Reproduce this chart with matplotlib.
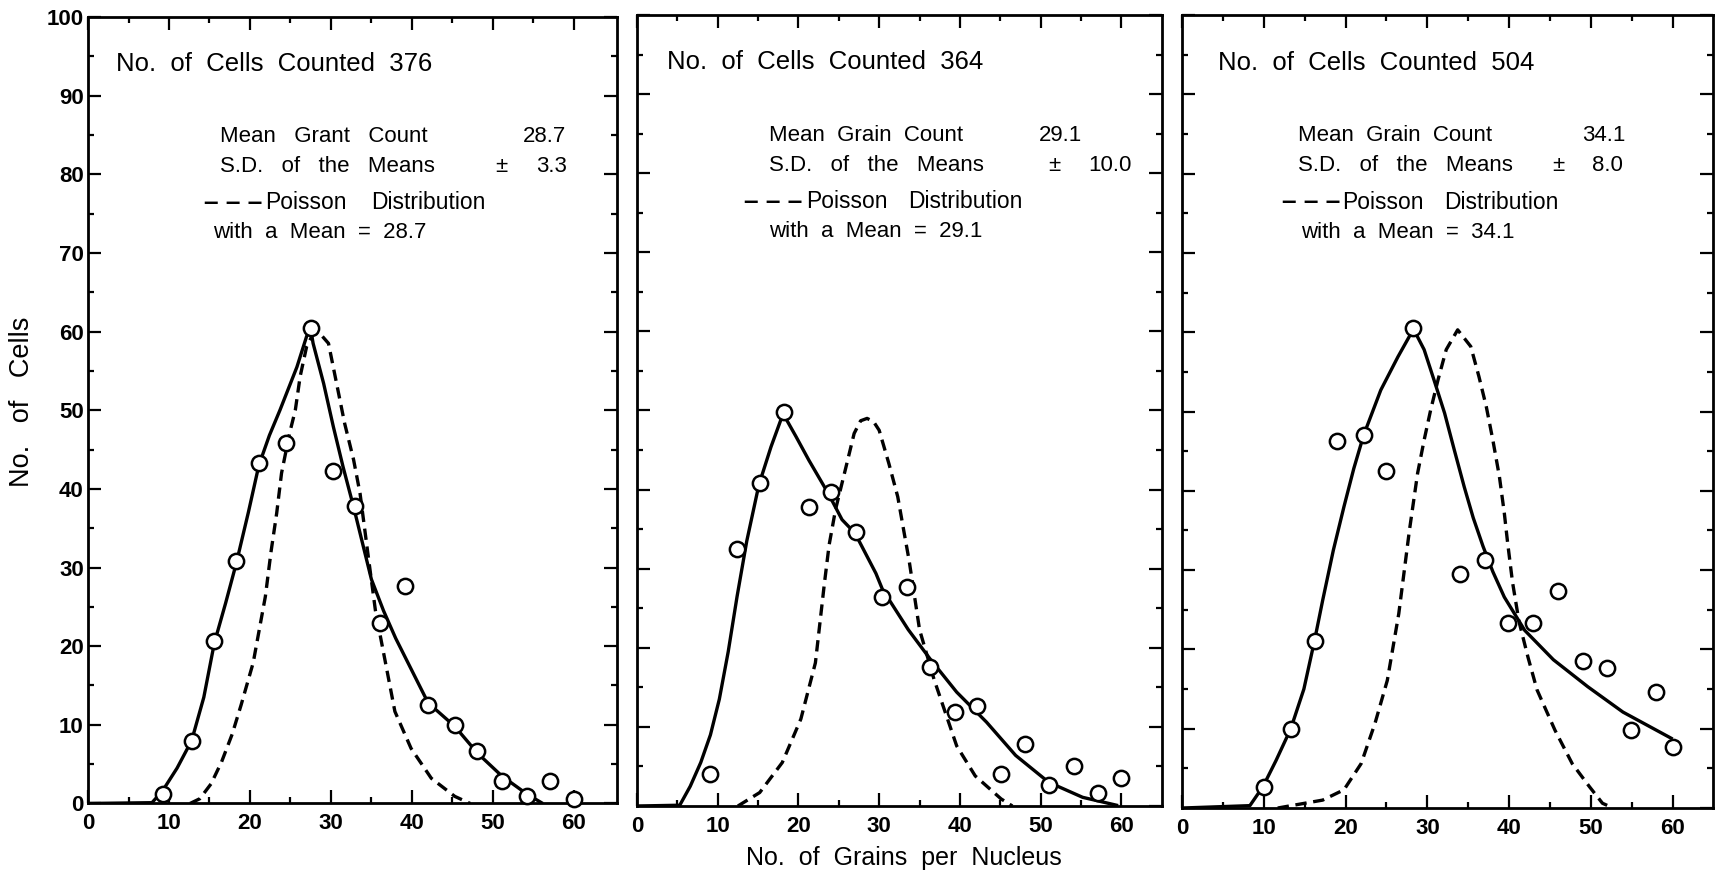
import numpy as np
import matplotlib
matplotlib.use('Agg')
import matplotlib.pyplot as plt

plt.rcParams['font.family'] = ['Liberation Sans', 'DejaVu Sans']

obs1_x = [9.2, 12.8, 15.6, 18.3, 21.1, 24.5, 27.5, 30.3, 33.0, 36.0, 39.2, 42.0, 45.3, 48.1, 51.1, 54.2, 57.1, 60.0]
obs1_y = [1.2, 8.0, 20.6, 30.8, 43.3, 45.8, 60.4, 42.3, 37.8, 23.0, 27.6, 12.5, 10.0, 6.7, 2.9, 0.9, 2.9, 0.6]
obs2_x = [9.1, 12.4, 15.3, 18.2, 21.3, 24.0, 27.1, 30.3, 33.4, 36.3, 39.4, 42.1, 45.1, 48.1, 51.0, 54.1, 57.1, 60.0]
obs2_y = [4.0, 32.5, 40.8, 49.8, 37.8, 39.7, 34.6, 26.4, 27.7, 17.6, 11.9, 12.6, 4.0, 7.8, 2.6, 5.0, 1.7, 3.6]
obs3_x = [10.0, 13.3, 16.2, 19.0, 22.2, 25.0, 28.3, 34.0, 37.1, 39.9, 42.9, 46.0, 49.0, 51.9, 54.9, 58.0, 60.0]
obs3_y = [2.6, 10.0, 21.1, 46.3, 47.0, 42.5, 60.5, 29.5, 31.3, 23.3, 23.3, 27.4, 18.5, 17.6, 9.8, 14.6, 7.7]

# hand fitted curves (solid)
fit1_x = [0, 7.9, 9.2, 11.0, 12.8, 14.3, 15.6, 17.0, 18.3, 19.8, 21.1, 22.4, 23.7, 25.8, 27.0, 27.5, 27.8, 29.1, 30.3, 31.5, 32.8,
          35.0, 36.5, 38.0, 42.0, 45.3, 48.1, 51.1, 54.2, 56.0]
fit1_y = [0, 0.1, 1.6, 4.5, 8.0, 13.5, 20.4, 25.5, 30.5, 37.0, 43.0, 46.8, 50.0, 55.5, 59.4, 60.3, 58.5, 53.4, 47.9, 42.8, 37.7,
          28.5, 24.5, 21.0, 12.8, 9.8, 6.4, 3.5, 1.2, 0.1]
fit2_x = [0, 5.3, 6.6, 7.9, 9.1, 10.2, 11.3, 12.4, 13.6, 15.1, 16.6, 18.1, 19.7, 21.3, 23.7, 25.4, 27.0, 29.6, 30.4, 33.6, 36.3,
          39.6, 43.3, 46.9, 51.0, 55.2, 59.4]
fit2_y = [0, 0.1, 2.5, 5.5, 9.0, 13.5, 19.5, 26.5, 33.5, 40.6, 45.4, 49.6, 46.7, 43.7, 39.5, 36.2, 34.5, 29.4, 27.4, 22.3, 18.6,
          14.4, 10.6, 6.4, 3.0, 1.1, 0.1]
fit3_x = [0, 8.3, 9.9, 11.5, 13.3, 14.9, 16.2, 17.2, 18.5, 19.8, 21.0, 22.2, 24.3, 26.4, 28.3, 29.6, 30.8, 32.1, 33.3, 34.5,
          35.6, 36.8, 38.0, 39.4, 41.9, 45.4, 49.6, 53.9, 59.8]
fit3_y = [0, 0.3, 2.7, 6.0, 10.0, 15.0, 21.1, 26.2, 32.5, 38.0, 42.8, 47.0, 52.7, 56.9, 60.4, 57.8, 54.0, 49.8, 45.1, 40.5,
          36.6, 33.0, 29.8, 26.6, 22.4, 18.7, 15.3, 12.1, 8.8]

# Poisson curves (dashed)
poi1_x = [12.6, 13.8, 15.2, 16.5, 17.8, 18.9, 20.4, 21.9, 22.6, 23.3, 23.9, 24.9, 25.6, 26.2, 27.0, 27.8, 28.6, 29.7, 30.7,
          31.7, 32.8, 33.6, 34.6, 35.5, 36.7, 37.9, 39.9, 42.4, 45.3, 47.2]
poi1_y = [0, 0.6, 2.5, 5.3, 8.8, 12.5, 17.9, 26.3, 32.0, 36.9, 42.0, 47.1, 50.0, 54.3, 58.1, 59.7, 59.8, 58.5, 53.4,
          48.3, 43.7, 39.4, 31.5, 24.5, 18.1, 11.7, 7.0, 3.2, 0.9, 0]
poi2_x = [12.5, 15.2, 18.0, 20.3, 22.1, 23.2, 23.8, 24.6, 25.9, 26.9, 27.7, 28.5, 29.3, 30.0, 31.2, 32.3, 33.1, 33.7, 35.0,
          36.8, 38.2, 39.6, 41.9, 45.1, 46.5]
poi2_y = [0, 1.7, 5.5, 11.0, 18.1, 28.0, 33.0, 37.5, 42.9, 47.1, 48.7, 49.0, 48.6, 47.5, 43.3, 39.1, 34.5, 31.1, 22.3,
          16.0, 11.8, 7.6, 3.8, 0.9, 0]
poi3_x = [11.7, 17.2, 19.8, 21.9, 23.6, 25.1, 26.5, 27.8, 28.8, 29.6, 30.4, 31.3, 32.3, 33.7, 35.3, 36.3, 37.2, 38.0,
          38.8, 39.4, 39.8, 40.4, 41.2, 42.3, 43.4, 45.6, 47.7, 49.8, 51.4, 52.7]
poi3_y = [0, 1.0, 2.3, 5.6, 10.7, 16.1, 24.5, 35.0, 42.2, 46.4, 50.2, 54.0, 57.8, 60.3, 58.2, 54.4, 50.6, 46.4,
          41.8, 37.2, 33.5, 28.5, 23.5, 19.0, 14.9, 9.8, 5.6, 2.7, 0.6, 0]

cells_counted = ['376', '364', '504']
mean_labels = ['Mean   Grant   Count', 'Mean  Grain  Count', 'Mean  Grain  Count']
mean_values = ['28.7', '29.1', '34.1']
sd_values = ['3.3', '10.0', '8.0']

obs = [(obs1_x, obs1_y), (obs2_x, obs2_y), (obs3_x, obs3_y)]
fits = [(fit1_x, fit1_y), (fit2_x, fit2_y), (fit3_x, fit3_y)]
pois = [(poi1_x, poi1_y), (poi2_x, poi2_y), (poi3_x, poi3_y)]

fig = plt.figure(figsize=(17.16, 8.76), dpi=100)
rects = [[0.0513, 0.0828, 0.3081, 0.8978],
         [0.3712, 0.0799, 0.3058, 0.9030],
         [0.6888, 0.0776, 0.3094, 0.9053]]
xmax = [65.3, 65.0, 64.9]
# x anchors (data units): title, labels, mean value end, plus-minus, sd value end, dashes, "Poisson", "Distribution", last line
txt_x = [(3.4, 16.3, 59.1, 50.3, 59.1, 14.3, 21.9, 35.0, 15.5),
         (3.7, 16.4, 55.2, 50.9, 61.3, 13.2, 21.0, 33.6, 16.4),
         (4.4, 14.2, 54.2, 45.2, 53.9, 12.2, 19.6, 32.0, 14.5)]

for i in range(3):
    ax = fig.add_axes(rects[i])
    fx, fy = fits[i]
    px, py = pois[i]
    ox, oy = obs[i]
    ax.plot(fx, fy, color='black', lw=2.4, solid_joinstyle='round', zorder=3)
    ax.plot(px, py, color='black', lw=2.4, ls=(0, (3.4, 2.0)), zorder=3)
    ax.plot(ox, oy, 'o', ms=11, mfc='white', mec='black', mew=1.8, zorder=4, clip_on=False)

    ax.set_xlim(0, xmax[i])
    ax.set_ylim(0, 100)
    ax.set_xticks(np.arange(0, 61, 10))
    ax.set_xticks(np.arange(5, 61, 10), minor=True)
    ax.set_yticks(np.arange(0, 101, 10))
    ax.set_yticks(np.arange(5, 100, 10), minor=True)
    ax.tick_params(which='both', direction='in', top=True, right=True, width=1.6, colors='black')
    ax.tick_params(which='major', length=9.5)
    ax.tick_params(which='minor', length=4)
    ax.tick_params(axis='x', pad=7, labelsize=16)
    ax.tick_params(axis='y', pad=3, labelsize=16)
    for lab in ax.get_xticklabels() + ax.get_yticklabels():
        lab.set_fontweight('bold')
    if i > 0:
        ax.set_yticklabels([])
    for s in ax.spines.values():
        s.set_linewidth(2.0)

    t = txt_x[i]
    ax.text(t[0], 94.0, 'No.  of  Cells  Counted  ' + cells_counted[i], fontsize=18.5, va='center')
    ax.text(t[1], 84.8, mean_labels[i], fontsize=16, va='center')
    ax.text(t[2], 84.8, mean_values[i], fontsize=16, va='center', ha='right')
    ax.text(t[1], 81.0, 'S.D.   of   the   Means', fontsize=16, va='center')
    ax.text(t[3], 81.0, '±', fontsize=16, va='center')
    ax.text(t[4], 81.0, sd_values[i], fontsize=16, va='center', ha='right')
    ax.text(t[5], 76.4, '– – –', fontsize=19, va='center', fontweight='bold')
    ax.text(t[6], 76.4, 'Poisson', fontsize=16.5, va='center')
    ax.text(t[7], 76.4, 'Distribution', fontsize=16.5, va='center')
    ax.text(t[8], 72.6, 'with  a  Mean  =  ' + mean_values[i], fontsize=16, va='center')

fig.text(22 / 1716, 1 - 402 / 876, 'No.   of   Cells', rotation=90, fontsize=19.5, ha='center', va='center')
fig.text(904 / 1716, 1 - 858 / 876, 'No.  of  Grains  per  Nucleus', fontsize=18, ha='center', va='center')

fig.savefig('out.png', dpi=100, facecolor='white')
